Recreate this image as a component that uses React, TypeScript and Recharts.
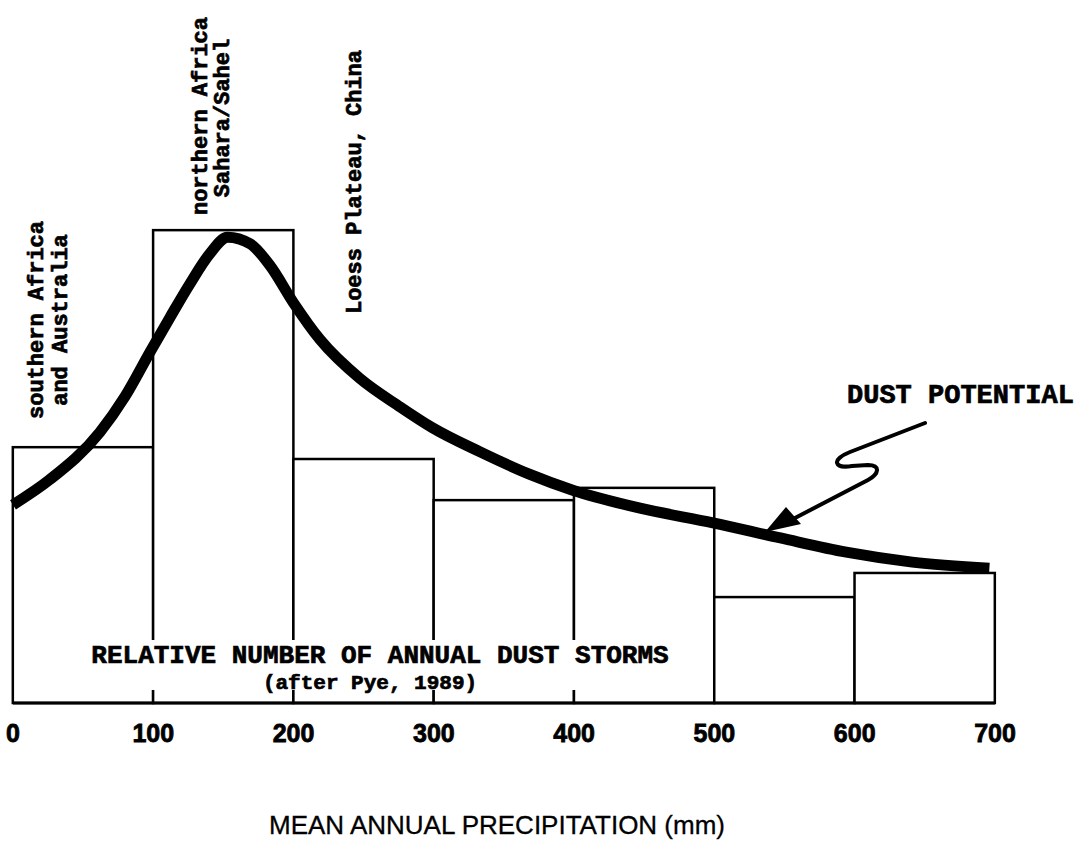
import React from "react";
import { ComposedChart, Bar, Line, XAxis, YAxis } from "recharts";

// histogram bins (mm, bin centre) and relative storm counts (tallest bin = 100)
const binCentres = [50, 150, 250, 350, 450, 550, 650];
const stormCounts = [54.1, 100, 51.6, 42.9, 45.5, 22.4, 27.5];

// dust potential curve
const curveX = [0, 26, 62, 80, 98, 112, 126, 140, 153, 169, 183, 200, 219, 247, 276, 299, 333, 368, 399, 447, 499, 547, 594, 641, 696];
const curveY = [41.9, 47.2, 57.3, 64.9, 74.4, 81.6, 88.6, 94.9, 98.5, 97.1, 92.6, 84.6, 76.8, 68.7, 62.6, 58.2, 53.1, 48.4, 45.0, 41.2, 38.1, 34.9, 31.9, 29.8, 28.5];

const xTicks = [0, 100, 200, 300, 400, 500, 600, 700];

const binData = binCentres.map((x, i) => ({ x, storms: stormCounts[i] }));
const curveData = curveX.map((x, i) => ({ x, potential: curveY[i] }));

const W = 1075;
const H = 844;
const margin = { top: 41, right: 80, left: 13, bottom: 101 };
const binPx = ((W - margin.left - margin.right) / 700) * 100;

const mono = "'Liberation Mono', 'Courier New', monospace";
const sans = "'Liberation Sans', Arial, sans-serif";

const Tick = ({ x, y, payload }: any) => (
  <text
    x={x}
    y={y + 33}
    textAnchor="middle"
    fontFamily={sans}
    fontWeight="bold"
    fontSize={25}
    fill="#000"
    stroke="#000"
    strokeWidth={0.8}
  >
    {payload.value}
  </text>
);

// full-width histogram column, centred on the bar's own position
const BinShape = ({ x, y, width, height }: any) => {
  const cx = x + width / 2;
  return (
    <rect x={cx - binPx / 2} y={y} width={binPx} height={height} fill="#fff" stroke="#000" strokeWidth={2.5} />
  );
};

const heavy = { fontFamily: mono, fontWeight: "bold" as const, fill: "#000", stroke: "#000", strokeWidth: 0.7 };

const VLabel = ({ x, y, text }: { x: number; y: number; text: string }) => (
  <text
    x={x}
    y={y}
    transform={`rotate(-90, ${x}, ${y})`}
    textAnchor="middle"
    dominantBaseline="central"
    fontSize={22}
    {...heavy}
  >
    {text}
  </text>
);

// text and the arrow drawn over the chart
const Annotations = () => (
  <svg width={W} height={H} style={{ position: "absolute", left: 0, top: 0, pointerEvents: "none" }}>
    {/* white box behind the histogram caption */}
    <rect x={72} y={640} width={622} height={50} fill="#fff" />
    <text x={380} y={663} textAnchor="middle" fontSize={26} {...heavy}>
      RELATIVE NUMBER OF ANNUAL DUST STORMS
    </text>
    <text x={370} y={689} textAnchor="middle" fontSize={21} {...heavy}>
      (after Pye, 1989)
    </text>

    <VLabel x={37} y={320} text="southern Africa" />
    <VLabel x={61} y={320} text="and Australia" />
    <VLabel x={201} y={116} text="northern Africa" />
    <VLabel x={223} y={118} text="Sahara/Sahel" />
    <VLabel x={355} y={182} text="Loess Plateau,  China" />

    <text x={847} y={403} fontSize={27} {...heavy}>
      DUST POTENTIAL
    </text>
    <path
      d="M925,423 L850,452 C830,460 835,469 852,466 L868,465 C881,465 879,474 868,480 L795,518"
      fill="none"
      stroke="#000"
      strokeWidth={4}
      strokeLinecap="round"
    />
    <polygon points="765,532 786,507 801,524" fill="#000" />

    <text x={497} y={834} textAnchor="middle" fontFamily={sans} fontSize={26} fill="#000" stroke="#000" strokeWidth={0.3}>
      MEAN ANNUAL PRECIPITATION (mm)
    </text>
  </svg>
);

export default function App() {
  return (
    <div style={{ position: "absolute", left: 0, top: 0, width: W, height: H, background: "#fff" }}>
      <ComposedChart width={W} height={H} data={binData} margin={margin} barGap={0}>
        <XAxis
          dataKey="x"
          type="number"
          domain={[0, 700]}
          ticks={xTicks}
          interval={0}
          height={40}
          tickLine={false}
          tickSize={6}
          tickMargin={0}
          axisLine={{ stroke: "#000", strokeWidth: 3 }}
          tick={<Tick />}
        />
        <YAxis hide domain={[0, 140]} type="number" />
        <Bar dataKey="storms" shape={<BinShape />} isAnimationActive={false} />
        <Line
          data={curveData}
          dataKey="potential"
          type="monotone"
          stroke="#000"
          strokeWidth={11}
          dot={false}
          activeDot={false}
          isAnimationActive={false}
        />
      </ComposedChart>
      <Annotations />
    </div>
  );
}
